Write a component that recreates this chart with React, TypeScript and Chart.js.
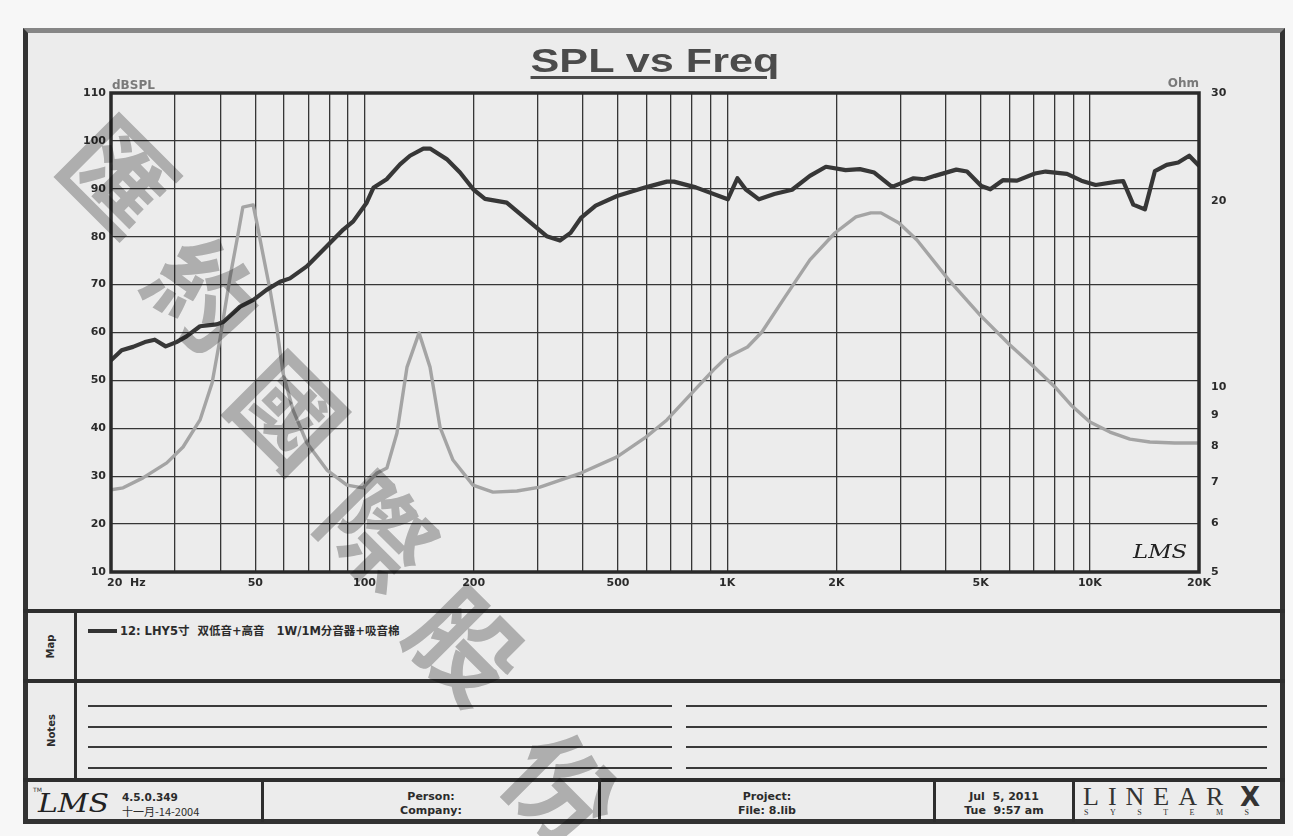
import React, { useEffect, useRef } from 'react';
import { Chart, registerables } from 'chart.js';

Chart.register(...registerables);

// ---- SPL curve (dBSPL, left axis) ----
const splFreq = [20, 21.4, 23, 24.8, 26.4, 28.3, 30.3, 32.3, 35.2, 39.1, 40.8, 45.4, 49.4, 53.7, 58.5, 62.3, 69.3, 78.7, 87.4, 93.1, 101.4, 105.8, 115.1, 125.3, 133.5, 145.3, 151.6, 168.5, 183.4, 199.5, 214.9, 246.7, 280, 317.9, 345.9, 370, 396, 434, 497, 596, 682, 713, 819, 1004, 1067, 1124, 1224, 1349, 1510, 1691, 1872, 2121, 2323, 2544, 2849, 3265, 3496, 3740, 4284, 4585, 5021, 5316, 5757, 6300, 7058, 7553, 8651, 9476, 10377, 11884, 12361, 13176, 14185, 15118, 16287, 17530, 18795, 20000];
const splDb = [54.2, 56.3, 57.0, 58.0, 58.5, 57.1, 58.0, 59.2, 61.3, 61.7, 62.2, 65.4, 66.8, 68.9, 70.6, 71.3, 73.8, 78.0, 81.5, 83.2, 87.1, 90.2, 92.0, 95.1, 96.9, 98.4, 98.4, 96.2, 93.4, 89.9, 87.9, 87.1, 83.6, 80.1, 79.2, 80.8, 84.0, 86.5, 88.5, 90.3, 91.5, 91.5, 90.3, 87.8, 92.2, 89.9, 87.8, 88.9, 89.8, 92.7, 94.6, 93.9, 94.1, 93.4, 90.4, 92.2, 92.0, 92.7, 94.0, 93.6, 90.6, 89.9, 91.8, 91.7, 93.2, 93.6, 93.1, 91.7, 90.8, 91.5, 91.6, 86.7, 85.7, 93.7, 95.0, 95.5, 96.9, 94.8];

// ---- Impedance curve (Ohm, right axis) ----
const impFreq = [20, 21.6, 24.5, 28.5, 31.6, 35.2, 38, 40, 42.6, 44.5, 46.2, 49.3, 50.5, 52.2, 54.9, 57.4, 59.6, 63.5, 69.4, 78.8, 89.5, 99, 108.3, 115.3, 122.9, 131, 141.4, 151.6, 161.5, 175.4, 199.1, 226.1, 263.3, 304.6, 361.5, 395.3, 496.9, 597, 682, 800, 917, 992, 1138, 1247, 1443, 1691, 1982, 2265, 2491, 2655, 2977, 3337, 4088, 4976, 6021, 7057, 8011, 8871, 10007, 11359, 12898, 14641, 17161, 20000];
const impOhm = [6.80, 6.85, 7.11, 7.52, 7.98, 8.83, 10.14, 12.0, 15.08, 17.31, 19.58, 19.74, 18.45, 16.68, 14.36, 12.36, 10.53, 9.17, 8.10, 7.32, 6.92, 6.85, 7.24, 7.38, 8.41, 10.76, 12.23, 10.76, 8.60, 7.60, 6.92, 6.74, 6.77, 6.87, 7.11, 7.24, 7.69, 8.28, 8.83, 9.77, 10.65, 11.13, 11.60, 12.27, 13.98, 16.07, 17.77, 18.87, 19.16, 19.16, 18.45, 17.31, 14.90, 13.08, 11.69, 10.73, 9.99, 9.34, 8.76, 8.44, 8.22, 8.13, 8.10, 8.10];

// ---- axes ----
const freqGrid = [20, 30, 40, 50, 60, 70, 80, 90, 100, 200, 300, 400, 500, 600, 700, 800, 900, 1000, 2000, 3000, 4000, 5000, 6000, 7000, 8000, 9000, 10000, 20000];
const freqLabelValues = [20, 50, 100, 200, 500, 1000, 2000, 5000, 10000, 20000];
const freqLabelText = ['        20  Hz', '50', '100', '200', '500', '1K', '2K', '5K', '10K', '20K'];
const dbTicks = [10, 20, 30, 40, 50, 60, 70, 80, 90, 100, 110];
const ohmTicks = [5, 6, 7, 8, 9, 10, 20, 30];

const TEXT = '#2b2b2b';
const SANS = '"DejaVu Sans", "Noto Sans CJK SC", sans-serif';

const plotFrame = {
  id: 'plotFrame',
  afterDraw(chart: any) {
    const { ctx, chartArea } = chart;
    ctx.save();
    ctx.strokeStyle = '#2a2a2a';
    ctx.lineWidth = 3.5;
    ctx.strokeRect(chartArea.left, chartArea.top, chartArea.right - chartArea.left, chartArea.bottom - chartArea.top);
    ctx.restore();
  },
};

const abs = (x: number, y: number, extra: React.CSSProperties = {}): React.CSSProperties => ({
  position: 'absolute', left: x, top: y, ...extra,
});

const watermark = [
  { ch: '匯', x: 122, y: 172 },
  { ch: '約', x: 208, y: 290 },
  { ch: '國', x: 292, y: 408 },
  { ch: '際', x: 382, y: 528 },
  { ch: '股', x: 470, y: 642 },
  { ch: '份', x: 566, y: 785 },
];

export default function App() {
  const canvasRef = useRef<HTMLCanvasElement | null>(null);

  useEffect(() => {
    document.body.style.margin = '0';
    const canvas = canvasRef.current;
    if (!canvas) return;
    const tickFont = { family: SANS, size: 11, weight: 'bold' as const };
    const gridOpts = { color: '#363636', lineWidth: 1.3, drawTicks: false };
    const chart = new Chart(canvas, {
      type: 'line',
      data: {
        datasets: [
          {
            label: 'SPL',
            data: splFreq.map((f, i) => ({ x: f, y: splDb[i] })),
            yAxisID: 'y',
            borderColor: '#373737',
            borderWidth: 4.2,
            pointRadius: 0,
            tension: 0,
            fill: false,
            borderJoinStyle: 'round',
            borderCapStyle: 'round',
          },
          {
            label: 'Impedance',
            data: impFreq.map((f, i) => ({ x: f, y: impOhm[i] })),
            yAxisID: 'y2',
            borderColor: '#a4a4a4',
            borderWidth: 3.4,
            pointRadius: 0,
            tension: 0,
            fill: false,
            borderJoinStyle: 'round',
            borderCapStyle: 'round',
          },
        ],
      },
      options: {
        responsive: false,
        animation: false,
        devicePixelRatio: 1,
        layout: { padding: { top: 93, left: 0, right: 0, bottom: 0 } },
        plugins: { legend: { display: false }, tooltip: { enabled: false }, title: { display: false } },
        scales: {
          x: {
            type: 'logarithmic',
            position: 'bottom',
            min: 20,
            max: 20000,
            afterBuildTicks: (s: any) => { s.ticks = freqGrid.map((v) => ({ value: v })); },
            afterFit: (s: any) => { s.height = 28; },
            ticks: {
              autoSkip: false, maxRotation: 0, minRotation: 0, padding: 5, color: TEXT, font: tickFont,
              callback: (v: any) => {
                const i = freqLabelValues.indexOf(Number(v));
                return i >= 0 ? freqLabelText[i] : '';
              },
            },
            grid: gridOpts,
            border: { display: false },
          },
          y: {
            type: 'linear',
            position: 'left',
            min: 10,
            max: 110,
            afterBuildTicks: (s: any) => { s.ticks = dbTicks.map((v) => ({ value: v })); },
            afterFit: (s: any) => { s.width = 111; },
            ticks: { padding: 5, color: TEXT, font: tickFont, callback: (v: any) => String(v) },
            grid: gridOpts,
            border: { display: false },
          },
          y2: {
            type: 'logarithmic',
            position: 'right',
            min: 5,
            max: 30,
            afterBuildTicks: (s: any) => { s.ticks = ohmTicks.map((v) => ({ value: v })); },
            afterFit: (s: any) => { s.width = 94; },
            ticks: { padding: 4, color: TEXT, font: tickFont, callback: (v: any) => String(v) },
            grid: { display: false },
            border: { display: false },
          },
        },
      },
      plugins: [plotFrame],
    } as any);
    return () => chart.destroy();
  }, []);

  const bar = (x: number, y: number, w: number, h: number, color = '#2e2e2e') => (
    <div style={abs(x, y, { width: w, height: h, background: color })} />
  );
  const bold: React.CSSProperties = { fontFamily: SANS, fontWeight: 'bold', color: TEXT, whiteSpace: 'pre' };

  return (
    <div style={{ position: 'absolute', left: 0, top: 0, width: 1293, height: 836, background: '#f7f7f7', overflow: 'hidden' }}>
      {/* outer frame */}
      <div style={abs(23, 28, { width: 1262, height: 796, boxSizing: 'border-box', border: '5px solid #333', borderTopColor: '#868686', background: '#ececec' })} />
      {/* section separators */}
      {bar(23, 609, 1262, 4)}
      {bar(23, 679, 1262, 4)}
      {bar(23, 778, 1262, 4)}
      {bar(74, 611, 3, 169)}
      {bar(261, 780, 3, 42)}
      {bar(598, 780, 3, 42)}
      {bar(933, 780, 3, 42)}
      {bar(1072, 780, 3, 42)}

      {/* chart */}
      <canvas ref={canvasRef} width={1293} height={600} style={abs(0, 0, { width: 1293, height: 600 })} />

      {/* title */}
      <div style={abs(455, 43, { width: 400, textAlign: 'center', lineHeight: '34px' })}>
        <span style={{ display: 'inline-block', transform: 'scaleX(1.27)', fontFamily: '"Liberation Sans", Arial, sans-serif', fontWeight: 'bold', fontSize: 34, color: '#4b4b4b', textDecoration: 'underline', textDecorationThickness: '3px', textUnderlineOffset: '4px' }}>SPL vs Freq</span>
      </div>
      <div style={abs(112, 79, { ...bold, fontSize: 12, lineHeight: '12px', color: '#7a7a7a' })}>dBSPL</div>
      <div style={abs(1140, 77, { ...bold, fontSize: 12, lineHeight: '12px', color: '#7a7a7a', width: 59, textAlign: 'right' })}>Ohm</div>
      <div style={abs(1133, 541, { fontFamily: '"DejaVu Serif", serif', fontStyle: 'italic', fontSize: 19, lineHeight: '20px', color: '#222', transform: 'scaleX(1.2)', transformOrigin: 'left' })}>LMS</div>

      {/* Map section */}
      <div style={abs(28, 613, { width: 46, height: 66, display: 'flex', alignItems: 'center', justifyContent: 'center' })}>
        <span style={{ ...bold, fontSize: 10, transform: 'rotate(-90deg)', display: 'inline-block' }}>Map</span>
      </div>
      {bar(88, 629, 29, 4, '#333')}
      <div style={abs(120, 624, { ...bold, fontSize: 11.5, lineHeight: '14px' })}>{'12: LHY5寸  双低音+高音   1W/1M分音器+吸音棉'}</div>

      {/* Notes section */}
      <div style={abs(28, 683, { width: 46, height: 95, display: 'flex', alignItems: 'center', justifyContent: 'center' })}>
        <span style={{ ...bold, fontSize: 10, transform: 'rotate(-90deg)', display: 'inline-block' }}>Notes</span>
      </div>
      {[705, 726, 746, 767].map((y) => (
        <React.Fragment key={y}>
          {bar(88, y, 584, 2, '#3a3a3a')}
          {bar(686, y, 581, 2, '#3a3a3a')}
        </React.Fragment>
      ))}

      {/* footer */}
      <div style={abs(33, 786, { fontFamily: '"DejaVu Sans", sans-serif', fontSize: 6, color: '#333' })}>TM</div>
      <div style={abs(38, 789, { fontFamily: '"DejaVu Serif", serif', fontStyle: 'italic', fontSize: 26, lineHeight: '28px', color: '#222', transform: 'scaleX(1.15)', transformOrigin: 'left' })}>LMS</div>
      <div style={abs(122, 790, { ...bold, fontSize: 10.5, lineHeight: '14px' })}>4.5.0.349</div>
      <div style={abs(122, 804, { fontFamily: '"Noto Sans CJK SC", "DejaVu Sans", sans-serif', fontSize: 11, lineHeight: '14px', color: TEXT })}>十一月-14-2004</div>

      <div style={abs(264, 790, { ...bold, width: 334, textAlign: 'center', fontSize: 11, lineHeight: '14px' })}>{'Person:\nCompany:'}</div>
      <div style={abs(601, 790, { ...bold, width: 332, textAlign: 'center', fontSize: 11, lineHeight: '14px' })}>{'Project:\nFile: 8.lib'}</div>
      <div style={abs(936, 790, { ...bold, width: 136, textAlign: 'center', fontSize: 11, lineHeight: '14px' })}>{'Jul  5, 2011\nTue  9:57 am'}</div>

      <div style={abs(1083, 784, { fontFamily: '"Liberation Serif", serif', fontSize: 26, lineHeight: '26px', letterSpacing: 9, color: '#333', whiteSpace: 'pre' })}>LINEAR</div>
      <div style={abs(1240, 784, { fontFamily: SANS, fontWeight: 'bold', fontSize: 26, lineHeight: '26px', color: '#333' })}>X</div>
      <div style={abs(1084, 808, { fontFamily: '"Liberation Serif", serif', fontSize: 8, lineHeight: '10px', letterSpacing: 21.5, color: '#333', whiteSpace: 'pre' })}>SYSTEMS</div>

      {/* watermark */}
      {watermark.map((w) => (
        <div key={w.ch} style={abs(w.x - 60, w.y - 60, { width: 120, height: 120, display: 'flex', alignItems: 'center', justifyContent: 'center', pointerEvents: 'none', mixBlendMode: 'multiply' })}>
          <span style={{ display: 'inline-block', transform: 'rotate(45deg)', fontFamily: '"Noto Sans CJK TC", "Noto Sans CJK SC", sans-serif', fontWeight: 'bold', fontSize: 106, lineHeight: '106px', color: '#bcbcbc' }}>{w.ch}</span>
        </div>
      ))}
    </div>
  );
}
